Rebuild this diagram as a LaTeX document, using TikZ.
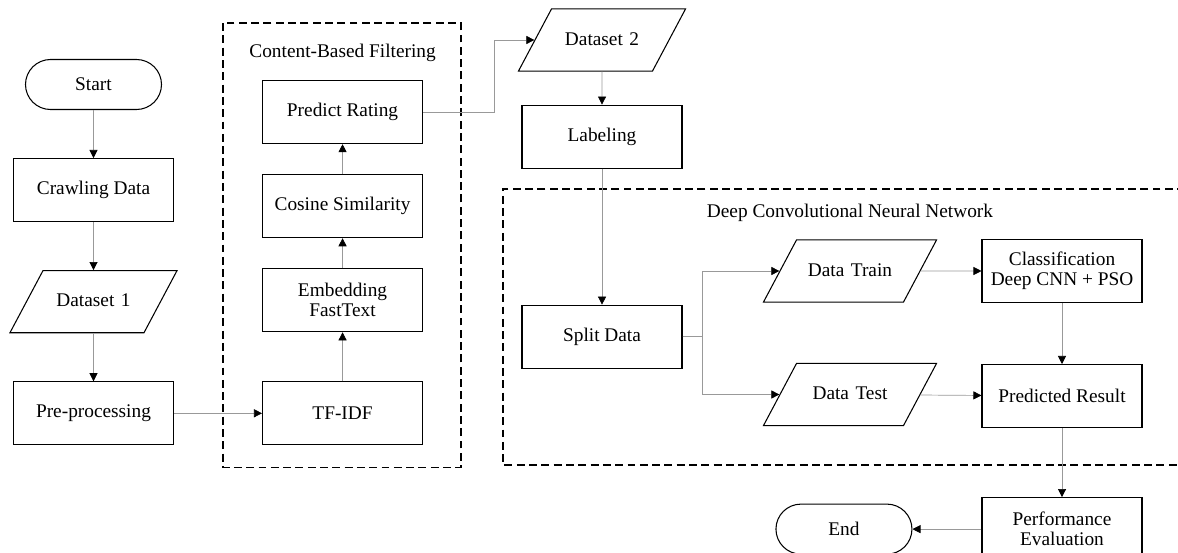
\documentclass[tikz,border=0pt]{standalone}
\usepackage{fontspec}
\setmainfont{Liberation Serif}
\usetikzlibrary{shapes.geometric, arrows.meta, positioning, calc}

\begin{document}
\begin{tikzpicture}[
    node distance=0.96cm,
    every node/.style={font=\fontsize{11}{11.5}\selectfont},
    process/.style={draw, line width=0.6pt, align=center, minimum width=3.2cm, minimum height=1.26cm, inner sep=2pt},
    io/.style={draw, line width=0.6pt, trapezium, trapezium left angle=62, trapezium right angle=118, align=center, text width=2.02cm, text height=1.5ex, text depth=0.25ex, inner xsep=0pt, inner ysep=0.48cm},
    term/.style={draw, line width=0.6pt, rectangle, rounded corners=0.5cm, minimum width=2.72cm, minimum height=1.0cm},
    group/.style={line width=0.8pt, dash pattern=on 4.5pt off 2.5pt},
    grouptitle/.style={inner sep=0pt},
    arr/.style={-{Triangle[length=4.6pt, width=4.6pt, color=black]}, gray!80, line width=0.4pt}
]
    \useasboundingbox (0,0) rectangle (23.56,-11.06);

    % left column
    \node[term] (start) at (1.87,-1.69) {Start};
    \node[process, below=of start] (crawl) {Crawling Data};
    \node[io, below=of crawl] (ds1) {Dataset 1};
    \node[process, below=of ds1] (prep) {Pre-processing};

    % content-based filtering
    \node[process, right=1.76cm of prep] (tfidf) {TF-IDF};
    \node[process, above=0.98cm of tfidf] (embed) {Embedding\\FastText};
    \node[process, above=0.6cm of embed] (cosine) {Cosine Similarity};
    \node[process, above=0.6cm of cosine] (predict) {Predict Rating};
    \node[grouptitle, above=0.36cm of predict] (cbftitle) {Content-Based Filtering};

    \node[io] (ds2) at (12.04,-0.80) {Dataset 2};
    \node[process, below=0.66cm of ds2] (label) {Labeling};
    \node[process, below=2.72cm of label] (split) {Split Data};

    % deep cnn
    \node[grouptitle] (cnntitle) at (17.0,-4.26) {Deep Convolutional Neural Network};
    \node[io, text width=2.14cm] (train) at (17.0,-5.42) {Data Train};
    \node[io, text width=2.14cm] (test) at (17.0,-7.89) {Data Test};
    \node[process] (cls) at (21.24,-5.42) {Classification\\Deep CNN + PSO};
    \node[process, below=1.22cm of cls] (pred) {Predicted Result};
    \node[process, below=1.38cm of pred] (perf) {Performance\\Evaluation};
    \node[term, left=1.38cm of perf] (end) {End};

    % group frames
    \draw[group] ($(predict.north west)+(-0.78,1.14)$) rectangle ($(tfidf.south east)+(0.76,-0.44)$);
    \draw[group] (23.7,-3.78) -| (10.06,-9.30) -- (23.7,-9.30);

    \draw[arr] (start) -- (crawl);
    \draw[arr] (crawl) -- (ds1);
    \draw[arr] (ds1) -- (prep);
    \draw[arr] (prep) -- (tfidf);
    \draw[arr] (tfidf) -- (embed);
    \draw[arr] (embed) -- (cosine);
    \draw[arr] (cosine) -- (predict);
    \draw[arr] (predict.east) -- ++(1.42,0) |- (ds2);
    \draw[arr] (ds2) -- (label);
    \draw[arr] (label) -- (split);
    \draw[arr] (split.east) -- ++(0.4,0) |- (train);
    \draw[arr] (split.east) -- ++(0.4,0) |- (test);
    \draw[arr] (train) -- (cls);
    \draw[arr] (test) -- (pred);
    \draw[arr] (cls) -- (pred);
    \draw[arr] (pred) -- (perf);
    \draw[arr] (perf) -- (end);
\end{tikzpicture}
\end{document}
